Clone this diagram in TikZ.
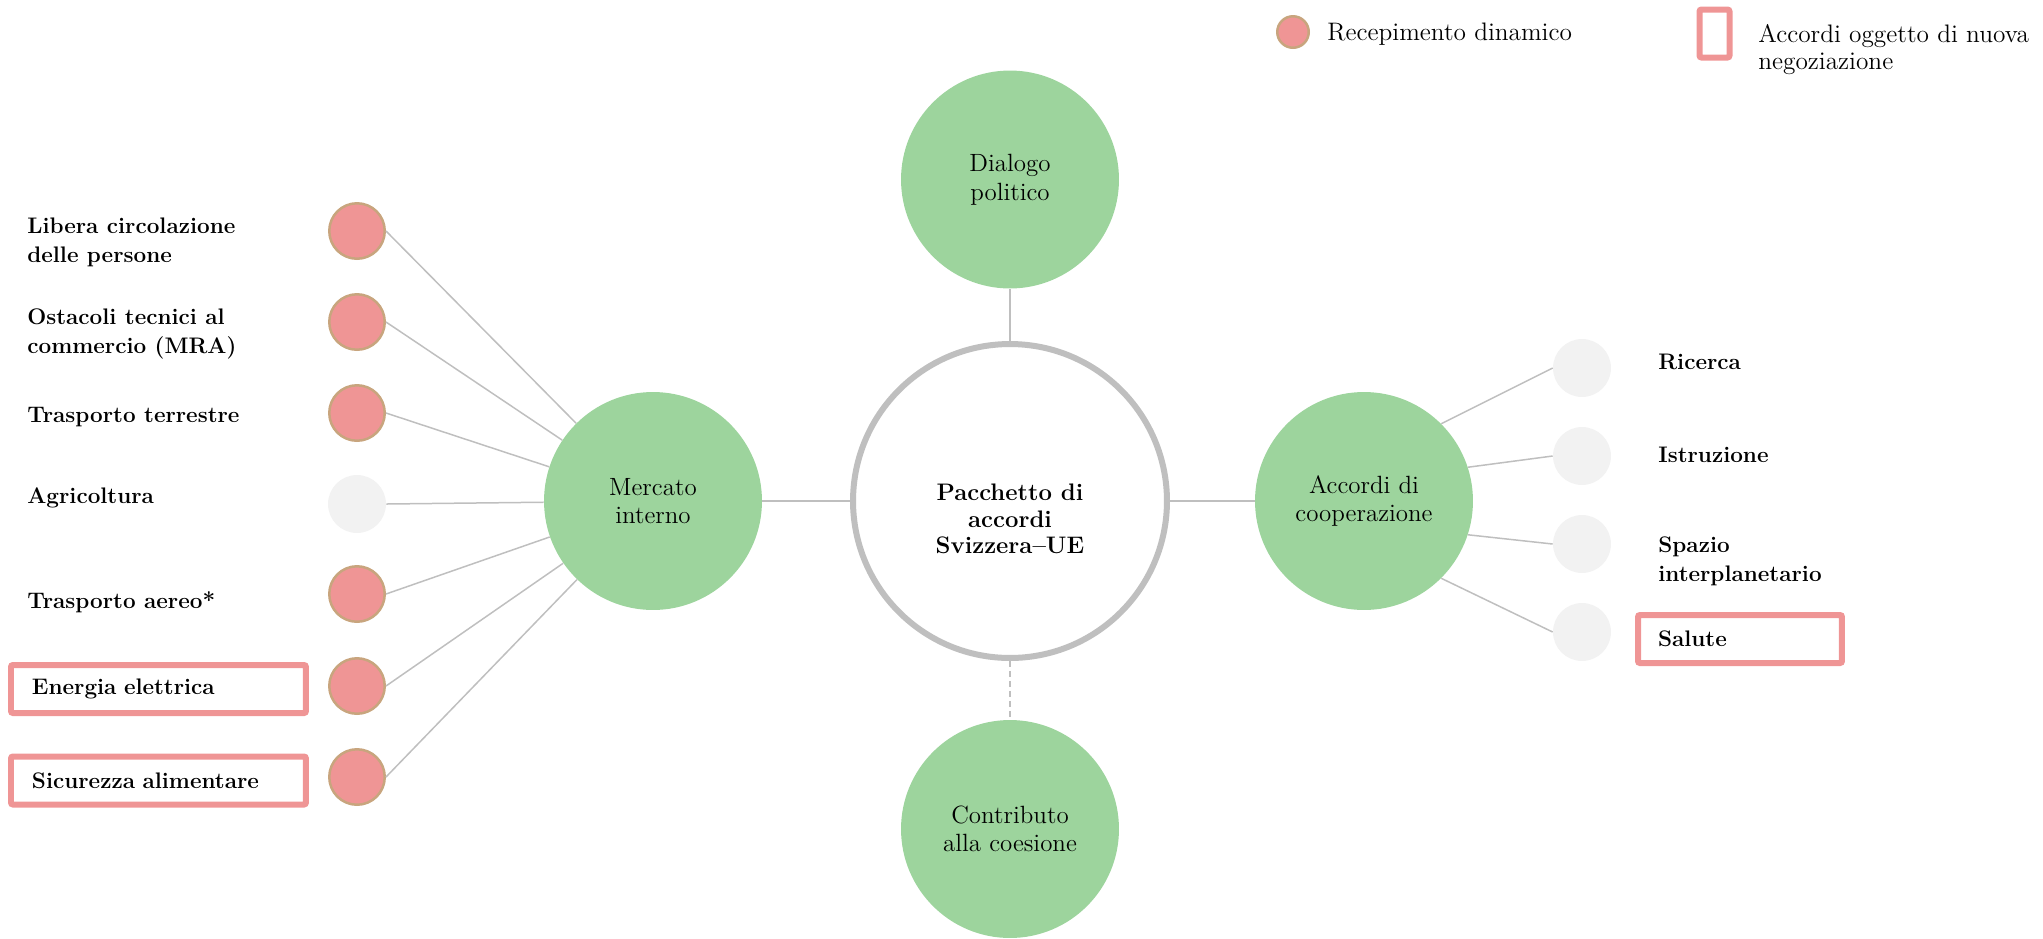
\documentclass[tikz,border=0pt]{standalone}
\definecolor{cVerde}{HTML}{9DD49D}
\definecolor{cRosa}{HTML}{EF9595}
\definecolor{cBordo}{HTML}{C8A57E}
\definecolor{cNeutro}{HTML}{F2F2F2}
\definecolor{cLinea}{HTML}{BFBFBF}
\begin{document}
\begin{tikzpicture}[x=0.02cm, y=-0.02cm,
    tema/.style={circle, fill=cVerde, minimum size=4.36cm, inner sep=0pt, align=center,
      font=\fontsize{14.2}{16.3}\selectfont},
    dinamico/.style={circle, fill=cRosa, draw=cBordo, line width=0.05cm, minimum size=1.11cm, inner sep=0pt},
    neutro/.style={circle, fill=cNeutro, minimum size=1.16cm, inner sep=0pt},
    voce/.style={anchor=west, align=left, inner sep=0pt, font=\bfseries\fontsize{12.8}{16.5}\selectfont},
    riquadro/.style={draw=cRosa, line width=0.12cm, rounded corners=0.04cm, minimum height=0.96cm, inner ysep=0pt},
    linea/.style={draw=cLinea, line width=0.03cm}]
    \useasboundingbox (0,0) rectangle (2043,938);

    % Legenda
    \node[dinamico, minimum size=0.63cm] (legRec) at (1293,32) {};
    \node[anchor=west, inner sep=0pt, font=\fontsize{14.4}{15.3}\selectfont] (legRecT) at (1327,34) {Recepimento dinamico};
    \node[riquadro, minimum width=0.6cm, inner xsep=0pt] (legNeg) at (1714.5,33.5) {};
    \node[anchor=west, align=left, inner sep=0pt, font=\fontsize{14.4}{15.3}\selectfont] (legNegT) at (1758,49.5) {Accordi oggetto di nuova\\negoziazione};

    % Centro
    \node[circle, draw=cLinea, line width=0.12cm, fill=white, minimum size=6.28cm] (cen) at (1010,501) {};
    \node[align=center, font=\bfseries\fontsize{13.6}{15}\selectfont] (cenT) at (1010,519) {Pacchetto di\\accordi\\Svizzera–UE};

    % Temi
    \node[tema] (dia) at (1010,179.5) {Dialogo\\politico};
    \node[tema] (mer) at (653,501) {Mercato\\interno};
    \node[tema] (acc) at (1364,501) {Accordi di\\cooperazione};
    \node[tema] (con) at (1010,829) {Contributo\\alla coesione};

    \draw[linea] (cen) -- (dia);
    \draw[linea] (cen) -- (mer);
    \draw[linea] (cen) -- (acc);
    \draw[linea, dash pattern=on 0.12cm off 0.08cm] (cen) -- (con);

    % Mercato interno
    \node[dinamico] (lib) at (357,231) {};
    \node[dinamico] (ost) at (357,322) {};
    \node[dinamico] (ter) at (357,413) {};
    \node[neutro]   (agr) at (357,504) {};
    \node[dinamico] (aer) at (357,594) {};
    \node[dinamico] (ene) at (357,686) {};
    \node[dinamico] (sic) at (357,777) {};

    \node[voce] (libT) at (27,242.5) {Libera circolazione\\delle persone};
    \node[voce] (ostT) at (27,333.5) {Ostacoli tecnici al\\commercio (MRA)};
    \node[voce] (terT) at (27,417) {Trasporto terrestre};
    \node[voce] (agrT) at (27,498) {Agricoltura};
    \node[voce] (aerT) at (27,602) {Trasporto aereo*};
    \node[voce, riquadro, text width=5.06cm, inner xsep=0.42cm] (eneT) at (8,689) {Energia elettrica};
    \node[voce, riquadro, text width=5.06cm, inner xsep=0.42cm] (sicT) at (8,780.5) {Sicurezza alimentare};

    \foreach \n in {lib,ost,ter,agr,aer,ene,sic}
      \draw[linea] (\n.east) -- (mer);

    % Accordi di cooperazione
    \node[neutro] (ric) at (1582,368) {};
    \node[neutro] (ist) at (1582,456) {};
    \node[neutro] (spa) at (1582,544) {};
    \node[neutro] (sal) at (1582,632) {};

    \node[voce] (ricT) at (1658,362) {Ricerca};
    \node[voce] (istT) at (1658,455) {Istruzione};
    \node[voce] (spaT) at (1658,561) {Spazio\\interplanetario};
    \node[voce, riquadro, text width=3.28cm, inner xsep=0.4cm] (salT) at (1635,639) {Salute};

    \draw[linea] (acc.45) -- (ric.west);
    \draw[linea] (acc.18) -- (ist.west);
    \draw[linea] (acc.-18) -- (spa.west);
    \draw[linea] (acc.-45) -- (sal.west);
\end{tikzpicture}
\end{document}
